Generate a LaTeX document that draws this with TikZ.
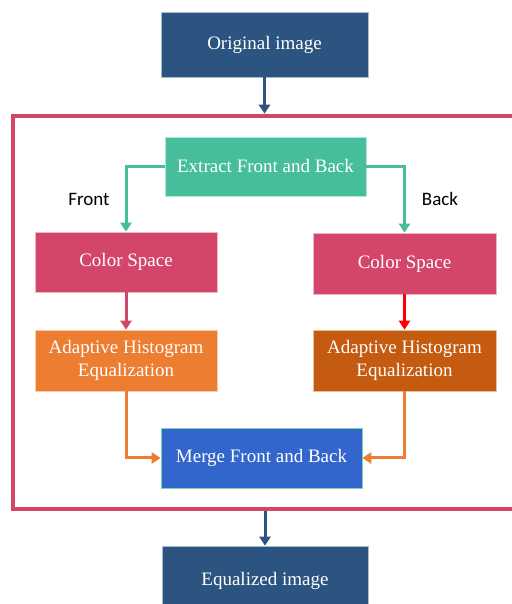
\documentclass[tikz,border=0pt]{standalone}
\usepackage{fontspec}
\setmainfont{Liberation Serif}
\newfontfamily\labelfont{Carlito}
\usepackage{tikz}
\usetikzlibrary{positioning, arrows.meta, calc}
\definecolor{darkblue}{HTML}{2B5580}
\definecolor{seagreen}{HTML}{46BD9B}
\definecolor{crimson}{HTML}{D4456A}
\definecolor{lightorange}{HTML}{ED7D31}
\definecolor{darkorange}{HTML}{C55A11}
\definecolor{mergeblue}{HTML}{3366CC}
\tikzset{
  block/.style={rectangle, draw=white!60!#1, line width=0.6pt, fill=#1, text=white,
    align=center, font=\fontsize{19}{23}\selectfont, inner sep=0pt},
  flow/.style={line width=3pt, -{Triangle[width=11pt,length=9pt]}}
}

\begin{document}
\begin{tikzpicture}[x=1pt, y=1pt]
		\useasboundingbox (0,0) rectangle (511,604);
		
		% Outer frame
		\node[draw=crimson, line width=4.5pt, minimum width=507pt, minimum height=393pt, inner sep=0pt] (frame) at (266.5,291.5) {};
		
		% Draw blocks
		\node[block=darkblue, minimum width=207pt, minimum height=65pt] (orig) at (264.5,559.5) {Original image};
		\node[block=seagreen, minimum width=201pt, minimum height=59pt] (extract) at (265.5,437.5) {Extract Front and Back};
		\node[block=crimson, minimum width=182pt, minimum height=60pt] (csL) at (126,342) {Color Space};
		\node[block=crimson, minimum width=183pt, minimum height=61pt] (csR) at (404.5,340.5) {Color Space};
		\node[block=lightorange, minimum width=182pt, minimum height=61pt] (aheL) at (126,243.5) {Adaptive Histogram\\Equalization};
		\node[block=darkorange, minimum width=183pt, minimum height=61pt] (aheR) at (404.5,243.5) {Adaptive Histogram\\Equalization};
		\node[block=mergeblue, draw=seagreen!70, minimum width=201pt, minimum height=60pt] (merge) at (261.5,146) {Merge Front and Back};
		\node[block=darkblue, minimum width=206pt, minimum height=70pt] (eq) at (265,23) {Equalized image};
		
		% Add labels
		\node[font=\labelfont\fontsize{19}{23}\selectfont] (front) at (89,405) {Front};
		\node[font=\labelfont\fontsize{19}{23}\selectfont] (back) at (440,405) {Back};
		
		% Draw arrows
		\draw[flow, darkblue] (orig.south) -- (orig.south |- frame.north);
		\draw[flow, seagreen] (extract.west) -| (csL.north);
		\draw[flow, seagreen] (extract.east) -| (csR.north);
		\draw[flow, crimson] (csL.south) -- (aheL.north);
		\draw[flow, red] (csR.south -| aheR.north) -- (aheR.north);
		\draw[flow, lightorange] (aheL.south) |- (merge.west);
		\draw[flow, lightorange] (aheR.south) |- (merge.east);
		\draw[flow, darkblue] (eq.north |- frame.south) -- (eq.north);
		
	\end{tikzpicture}
\end{document}
